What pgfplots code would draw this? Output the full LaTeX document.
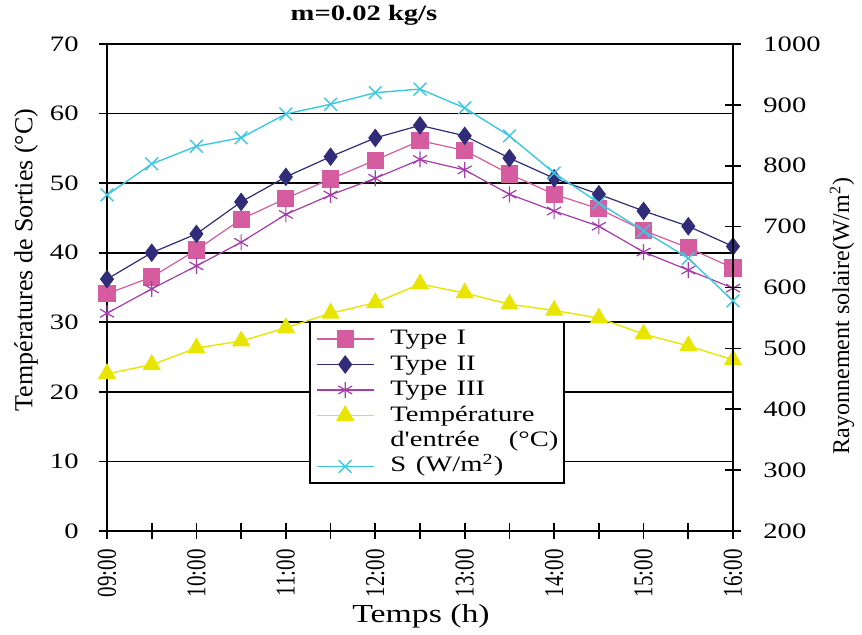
\documentclass[border=0pt]{standalone}
\usepackage{pgfplots}
\pgfplotsset{compat=1.18}
\usepackage{pgfplotstable}
\usepackage{fontspec}
\setmainfont{Liberation Serif}
\usepackage{graphicx}

\definecolor{typeI}{RGB}{214,92,160}
\definecolor{typeII}{RGB}{48,44,120}
\definecolor{typeIII}{RGB}{165,60,170}
\definecolor{tin}{RGB}{232,230,0}
\definecolor{solar}{RGB}{60,200,225}

% horizontally widened text, and its counterpart for rotated labels
\newcommand\hs[1]{\scalebox{1.3}[1]{#1}}
\newcommand\vs[1]{\scalebox{1}[1.3]{#1}}

% half-hourly readings, 09:00 (0) to 16:00 (14)
\pgfplotstableread{
x  t1   t2   t3   tin  S
0  34.1 36.2 31.3 22.6 752
1  36.5 40.0 34.8 23.9 803
2  40.4 42.7 38.1 26.3 832
3  44.8 47.3 41.5 27.3 846
4  47.8 50.9 45.5 29.2 885
5  50.6 53.8 48.3 31.3 901
6  53.3 56.5 50.7 32.8 920
7  56.1 58.3 53.4 35.5 926
8  54.7 56.8 51.9 34.2 895
9  51.3 53.6 48.4 32.6 849
10 48.4 50.7 46.0 31.7 788
11 46.3 48.4 43.8 30.6 739
12 43.2 46.0 40.1 28.3 693
13 40.7 43.8 37.5 26.6 648
14 37.8 40.9 34.9 24.6 578
}\data

\pgfplotsset{
  common/.style={
    at={(0pt,0pt)}, anchor=south west,
    scale only axis, width=313pt, height=243.5pt,
    xmin=0, xmax=14, clip=false,
    tick align=center, major tick length=8pt,
    tick style={black, line width=0.8pt},
    axis line style={black, line width=0.9pt},
    tick label style={font=\fontsize{11}{13}\selectfont},
    /pgf/number format/assume math mode=true,
    /pgf/number format/1000 sep={},
  },
}

\begin{document}
\begin{tikzpicture}
\path[use as bounding box] (-53.5pt,-52pt) rectangle (377.5pt,265.5pt);

\begin{axis}[
  common,
  ymin=0, ymax=70,
  xtick={0,...,14},
  xticklabels={\vs{09:00},{},\vs{10:00},{},\vs{11:00},{},\vs{12:00},{},\vs{13:00},{},\vs{14:00},{},\vs{15:00},{},\vs{16:00}},
  xticklabel style={rotate=90, anchor=east, inner sep=0pt, font=\fontsize{10.5}{12}\selectfont},
  xticklabel shift=5pt,
  ytick={0,10,...,70},
  yticklabel={\hs{\pgfmathprintnumber{\tick}}},
  yticklabel style={anchor=east, inner sep=0pt},
  yticklabel shift=10pt,
  xtick pos=bottom, ytick pos=left,
  ymajorgrids, grid style={black, line width=0.9pt},
  legend cell align=left,
  legend image code/.code={%
    \draw[mark repeat=2, mark phase=2, #1]
      plot coordinates {(0pt,0pt) (14.25pt,0pt) (28.5pt,0pt)};},
  legend style={
    at={(0.3227,0.4312)}, anchor=north west,
    draw=black, line width=1pt, fill=white,
    inner xsep=3pt, inner ysep=3.25pt,
    row sep=2.25pt, column sep=8pt,
    font=\fontsize{11}{13}\selectfont,
    nodes={inner xsep=0pt, inner ysep=0pt, text height=8pt, text depth=2.5pt, text width=84pt},
  },
]
\addplot[typeI, line width=0.6pt, mark=square*, mark size=4pt,
  mark options={fill=typeI, solid}] table[x=x, y=t1] {\data};
\addlegendentry{\hs{Type I}}
\addplot[typeII, line width=0.6pt, mark=diamond*, mark size=4.2pt,
  mark options={fill=typeII, solid}] table[x=x, y=t2] {\data};
\addlegendentry{\hs{Type II}}
\addplot[typeIII, line width=0.6pt, mark=asterisk, mark size=4pt,
  mark options={solid}] table[x=x, y=t3] {\data};
\addlegendentry{\hs{Type III}}
\addplot[tin, line width=0.7pt, mark=triangle*, mark size=4.6pt,
  mark options={fill=tin, solid}] table[x=x, y=tin] {\data};
\addlegendentry{\hs{Température}}
\addlegendimage{empty legend}
\addlegendentry{\makebox[84pt][l]{\hs{d\textquotesingle entrée}\hfill\hs{(°C)}}}
\addlegendimage{solar, line width=0.7pt, mark=x, mark size=4.5pt}
\addlegendentry{\hs{S (W/m\textsuperscript{2})}}
\end{axis}

\begin{axis}[
  common,
  ymin=200, ymax=1000,
  axis x line=none, axis y line*=right,
  ytick={200,300,...,1000},
  yticklabel={\hs{\pgfmathprintnumber{\tick}}},
  yticklabel style={anchor=west, inner sep=0pt},
  yticklabel shift=11pt,
]
\addplot[solar, line width=0.7pt, mark=x, mark size=4.5pt,
  mark options={solid}] table[x=x, y=S] {\data};
\end{axis}

% title and axis titles
\node[font=\bfseries\fontsize{11}{13}\selectfont] at (128.5pt,258pt) {\hs{m=0.02 kg/s}};
\node[font=\fontsize{13}{15}\selectfont] at (157pt,-42.5pt) {\hs{Temps (h)}};
\node[rotate=90, font=\fontsize{13}{15}\selectfont] at (-40.5pt,135.5pt)
  {Températures de Sorties (°C)};
\node[rotate=90, font=\fontsize{12}{14}\selectfont] at (367.5pt,107.5pt)
  {Rayonnement solaire(W/m\textsuperscript{2})};
\end{tikzpicture}
\end{document}
